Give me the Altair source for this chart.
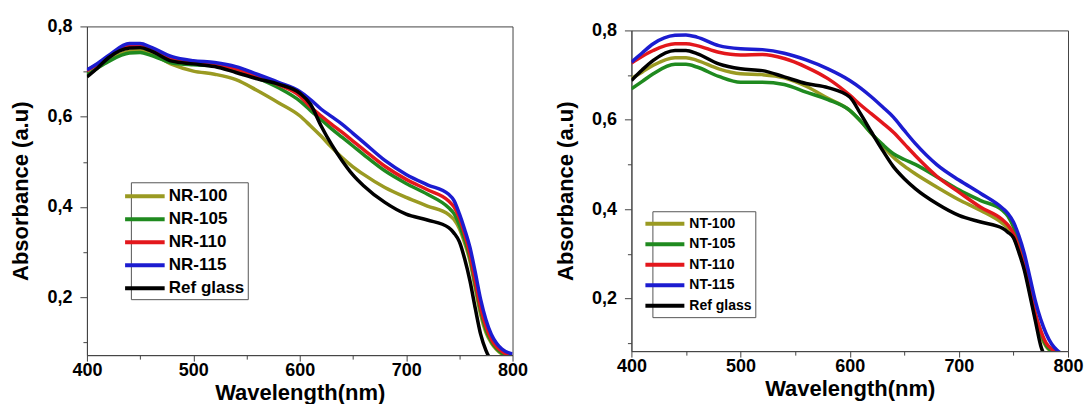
import altair as alt
import pandas as pd

wavelength = [400, 410, 420, 440, 450, 460, 480, 500, 520, 540, 560, 580, 600, 610, 620, 630,
              640, 650, 660, 680, 700, 720, 740, 745, 750, 755, 760, 765, 770, 775, 780, 785, 790, 800]

# Left panel (NR series)
nr_100 = [.690, .708, .725, .745, .747, .740, .716, .701, .694, .682, .658, .631, .602, .580, .557, .532,
          .509, .489, .472, .443, .421, .402, .383, .372, .352, .320, .280, .220, .162, .122, .099, .084, .074, .065]
nr_105 = [.693, .708, .722, .741, .742, .736, .719, .715, .713, .704, .686, .664, .635, .614, .594, .573,
          .554, .535, .516, .480, .452, .428, .398, .385, .360, .328, .287, .228, .170, .128, .102, .086, .076, .065]
nr_110 = [.702, .716, .731, .757, .757, .749, .729, .720, .716, .706, .690, .671, .646, .622, .602, .583,
          .565, .546, .527, .490, .461, .438, .413, .400, .376, .340, .295, .235, .177, .135, .107, .090, .080, .068]
nr_115 = [.704, .718, .735, .762, .762, .754, .733, .724, .720, .711, .694, .676, .656, .638, .617, .600,
          .583, .563, .543, .503, .472, .449, .428, .414, .385, .350, .310, .255, .195, .150, .118, .098, .085, .074]
nr_ref = [.688, .708, .730, .752, .753, .746, .723, .717, .711, .698, .684, .672, .652, .628, .580, .538,
          .502, .471, .447, .410, .384, .371, .354, .342, .323, .285, .236, .175, .118, .082, .060, .050, .045, .040]

# Right panel (NT series)
nt_100 = [.692, .707, .722, .739, .739, .733, .714, .703, .701, .694, .675, .648, .621, .597, .569, .542,
          .516, .496, .479, .449, .421, .397, .368, .357, .338, .308, .270, .215, .158, .118, .092, .081, .072, .062]
nt_105 = [.669, .686, .703, .724, .724, .718, .697, .684, .684, .679, .662, .645, .621, .597, .569, .545,
          .524, .511, .500, .472, .443, .419, .397, .384, .360, .322, .278, .222, .166, .125, .095, .082, .073, .063]
nt_110 = [.727, .742, .755, .770, .770, .766, .751, .745, .746, .737, .718, .692, .655, .633, .613, .593,
          .572, .546, .520, .473, .438, .404, .376, .364, .345, .312, .270, .218, .166, .128, .100, .087, .079, .068]
nt_115 = [.729, .750, .770, .789, .790, .785, .766, .759, .757, .749, .734, .714, .688, .671, .651, .629,
          .606, .576, .547, .499, .465, .435, .402, .390, .371, .340, .300, .248, .195, .153, .121, .098, .084, .070]
nt_ref = [.688, .712, .733, .755, .755, .748, .725, .714, .710, .696, .681, .672, .651, .613, .572, .532,
          .495, .468, .446, .412, .386, .371, .357, .348, .336, .303, .263, .208, .151, .094, .065, .050, .045, .040]

nr_names = ["NR-100", "NR-105", "NR-110", "NR-115", "Ref glass"]
nt_names = ["NT-100", "NT-105", "NT-110", "NT-115", "Ref glass"]
colors = ["#9a9a22", "#1f8a1f", "#e3171c", "#1c1cd0", "#000000"]

x_ticks = [400, 450, 500, 550, 600, 650, 700, 750, 800]
y_ticks = [0.1, 0.2, 0.3, 0.4, 0.5, 0.6, 0.7, 0.8]


def long_df(names, series):
    rows = []
    for order, (n, vals) in enumerate(zip(names, series)):
        for w, v in zip(wavelength, vals):
            rows.append({"wl": w, "abs": v, "sample": n, "order": order})
    return pd.DataFrame(rows)


FONT = "Liberation Sans"
AX = dict(labelFont=FONT, labelFontSize=18, labelFontWeight="bold", labelColor="black",
          titleFont=FONT, titleFontSize=22, titleFontWeight="bold", titleColor="black",
          domainColor="#444", tickColor="#444", grid=False)


def panel(df, names, ymin, w, h, lx, ly, lfs, lsize, lpath, loff, lrow):
    x_axis = alt.Axis(
        values=x_ticks,
        labelExpr="datum.value % 100 == 0 ? datum.label : ''",
        tickSize={"condition": {"test": "datum.value % 100 == 0", "value": 6}, "value": 4},
        labelFlush=False, labelOverlap=False, title="Wavelength(nm)", titlePadding=3,
        labelPadding=0, **AX,
    )
    y_axis = alt.Axis(
        values=y_ticks,
        labelExpr="round(datum.value*10) % 2 == 0 ? replace(format(datum.value, '.1f'), '.', ',') : ''",
        tickSize={"condition": {"test": "round(datum.value*10) % 2 == 0", "value": 7}, "value": 4},
        labelOverlap=False, title="Absorbance (a.u)", titlePadding=14, labelPadding=8, **AX,
    )
    return alt.Chart(df).mark_line(strokeWidth=3.5, interpolate="monotone", clip=True).encode(
        x=alt.X("wl:Q", scale=alt.Scale(domain=[400, 800], nice=False, zero=False), axis=x_axis),
        y=alt.Y("abs:Q", scale=alt.Scale(domain=[ymin, 0.8], nice=False, zero=False), axis=y_axis),
        color=alt.Color(
            "sample:N",
            scale=alt.Scale(domain=names, range=colors),
            legend=alt.Legend(
                title=None, orient="none", legendX=lx, legendY=ly,
                symbolType=lpath, symbolStrokeWidth=4, symbolSize=lsize,
                labelFontSize=lfs, labelFont=FONT, labelFontWeight="bold", labelColor="black",
                strokeColor="#555", padding=3, rowPadding=lrow, labelOffset=loff,
            ),
        ),
        order=alt.Order("order:Q"),
    ).properties(width=w, height=h)


left = panel(long_df(nr_names, [nr_100, nr_105, nr_110, nr_115, nr_ref]), nr_names,
             0.0716, 426, 329, 44, 156, 17, 324, "M-2.2,0H2.2", 13, 4)
right = panel(long_df(nt_names, [nt_100, nt_105, nt_110, nt_115, nt_ref]), nt_names,
              0.082, 437, 321, 21, 181, 14, 225, "M-2.6,0H2.6", 15, 2.5)

chart = alt.hconcat(left, right, spacing=25, center=True).resolve_scale(color="independent").resolve_legend(
    color="independent"
).properties(
    padding={"left": 1, "top": 8, "right": 0, "bottom": 0}
).configure_view(stroke="#444", strokeWidth=1)

chart.save("out.html", embed_options={"renderer": "svg", "actions": False})
